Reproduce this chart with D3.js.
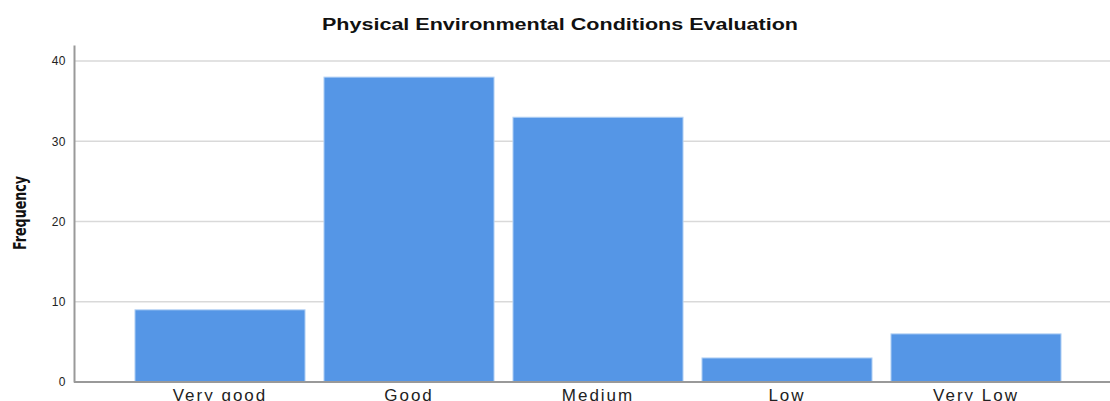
<!DOCTYPE html>
<html><head><meta charset="utf-8">
<script src="https://cdn.jsdelivr.net/npm/d3@7"></script>
<style>body{margin:0;background:#fff}svg{display:block}</style>
</head><body>
<svg id="c" width="1110" height="401"></svg>
<script>
const categories = ["Very good", "Good", "Medium", "Low", "Very Low"];
const frequencies = [9, 38, 33, 3, 6];
const yTicks = [0, 10, 20, 30, 40];
const title = "Physical Environmental Conditions Evaluation";
const yLabel = "Frequency";

const svg = d3.select("#c");
const x = d3.scaleBand().domain(categories).range([125.5, 1070.5]).paddingInner(0.1).paddingOuter(0.05);
const y = d3.scaleLinear().domain([0, 42]).range([382, 45]);
const left = 74, right = 1110;

// gridlines
svg.append("g").selectAll("line").data(yTicks.filter(d => d > 0)).join("line")
  .attr("x1", left).attr("x2", right).attr("y1", d => y(d)).attr("y2", d => y(d))
  .attr("stroke", "#d9d9d9").attr("stroke-width", 1.5);

// bars
svg.append("g").selectAll("rect").data(frequencies).join("rect")
  .attr("x", (d, i) => x(categories[i])).attr("width", x.bandwidth())
  .attr("y", d => y(d)).attr("height", d => y(0) - y(d))
  .attr("fill", "#5596e6").attr("stroke", "#b8d4f5").attr("stroke-width", 1);

// y axis
const ya = svg.append("g").attr("transform", `translate(${left},0)`)
  .call(d3.axisLeft(y).tickValues(yTicks).tickSize(0).tickPadding(8));
ya.select(".domain").attr("stroke", "#999").attr("stroke-width", 2);
ya.selectAll("text").attr("font-family", "Liberation Sans, Arial, sans-serif").attr("font-size", 12).attr("fill", "#222").attr("letter-spacing", "0.5px");

// x axis
const xa = svg.append("g").attr("transform", `translate(0,${y(0)})`)
  .call(d3.axisBottom(x).tickSize(0).tickPadding(7));
xa.select(".domain").remove();
svg.append("line").attr("x1", left).attr("x2", right).attr("y1", y(0)).attr("y2", y(0)).attr("stroke", "#999").attr("stroke-width", 2);
xa.selectAll("text").attr("font-family", "Liberation Sans, Arial, sans-serif").attr("font-size", 17).attr("fill", "#222").attr("letter-spacing", "2px").attr("dy", "0.71em");

// title
svg.append("text").attr("x", 560).attr("y", 30).attr("text-anchor", "middle")
  .attr("font-family", "Liberation Sans, Arial, sans-serif").attr("font-weight", "bold")
  .attr("font-size", 16).attr("textLength", 476).attr("lengthAdjust", "spacingAndGlyphs")
  .attr("fill", "#111").text(title);

// y label
svg.append("text").attr("transform", "translate(26,213) rotate(-90)").attr("text-anchor", "middle")
  .attr("font-family", "Liberation Sans Narrow, DejaVu Sans Condensed, Arial Narrow, sans-serif").attr("font-weight", "bold")
  .attr("font-size", 17).attr("textLength", 74).attr("lengthAdjust", "spacingAndGlyphs")
  .attr("fill", "#111").text(yLabel);
</script>
</body></html>
